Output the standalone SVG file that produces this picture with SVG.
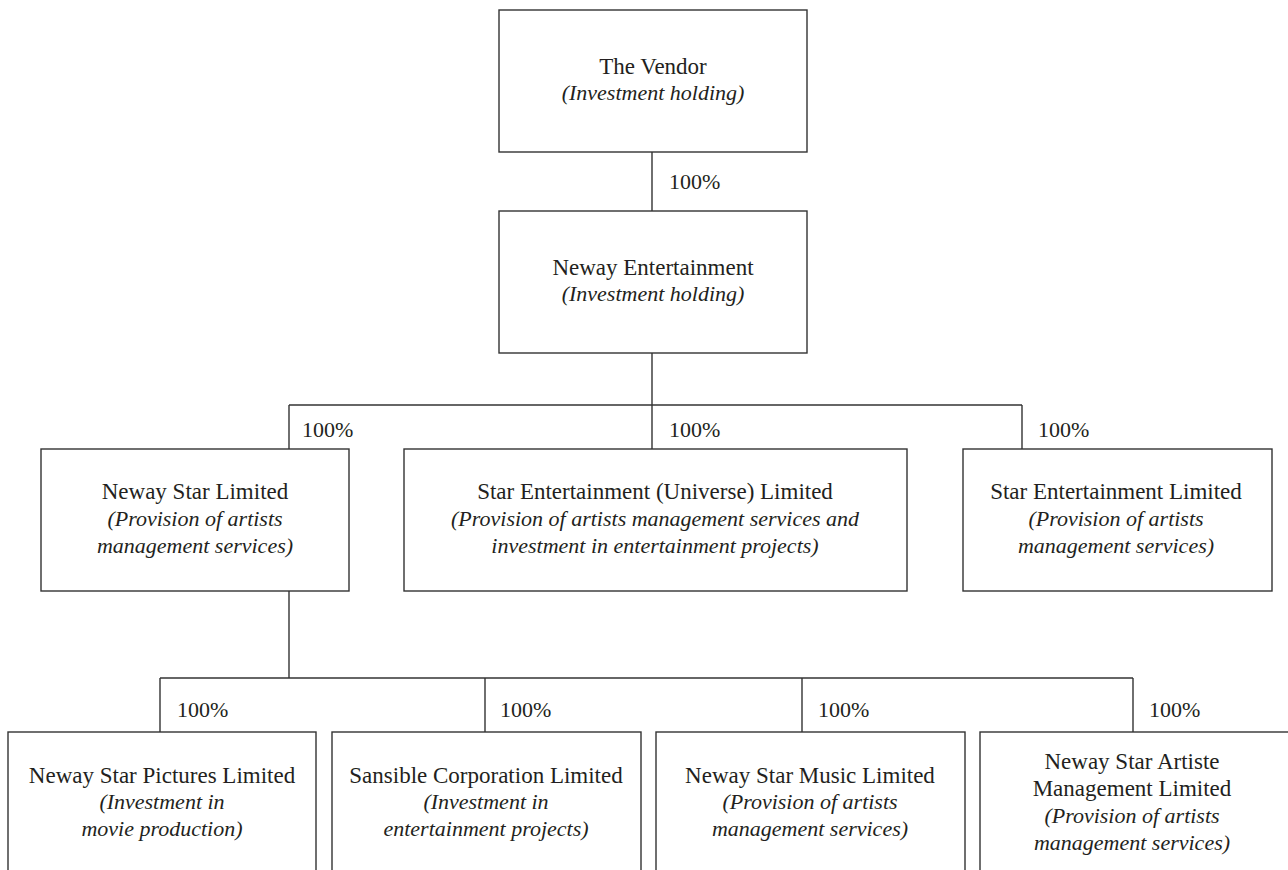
<svg xmlns="http://www.w3.org/2000/svg" width="1288" height="870" viewBox="0 0 1288 870">
<style>
rect.box{fill:#fff;stroke:#333;stroke-width:1.4}
.conn line{stroke:#333;stroke-width:1.4}
text{font-family:"Liberation Serif","Times New Roman",serif;font-size:23px;fill:#231f20}
text.p{font-size:22px}
text.c{text-anchor:middle}
.i{font-style:italic;font-size:22px}
</style>
<rect width="1288" height="870" fill="#fff"/>
<g id="connectors" class="conn">
<line x1="652" y1="152" x2="652" y2="211"/>
<line x1="652" y1="353" x2="652" y2="405"/>
<line x1="289" y1="405" x2="1022" y2="405"/>
<line x1="289" y1="405" x2="289" y2="449"/>
<line x1="652" y1="405" x2="652" y2="449"/>
<line x1="1022" y1="405" x2="1022" y2="449"/>
<line x1="289" y1="591" x2="289" y2="678"/>
<line x1="160" y1="678" x2="1133" y2="678"/>
<line x1="160" y1="678" x2="160" y2="732"/>
<line x1="485" y1="678" x2="485" y2="732"/>
<line x1="802" y1="678" x2="802" y2="732"/>
<line x1="1133" y1="678" x2="1133" y2="732"/>
</g>
<g id="labels">
<text class="p" x="669" y="189">100%</text>
<text class="p" x="302" y="437">100%</text>
<text class="p" x="669" y="437">100%</text>
<text class="p" x="1038" y="437">100%</text>
<text class="p" x="177" y="717">100%</text>
<text class="p" x="500" y="717">100%</text>
<text class="p" x="818" y="717">100%</text>
<text class="p" x="1149" y="717">100%</text>
</g>
<g id="vendor">
<rect class="box" x="499" y="10" width="308" height="142"/>
<text class="c" x="653" y="74">The Vendor</text>
<text class="c i" x="653" y="100">(Investment holding)</text>
</g>
<g id="neway-entertainment">
<rect class="box" x="499" y="211" width="308" height="142"/>
<text class="c" x="653" y="275">Neway Entertainment</text>
<text class="c i" x="653" y="301">(Investment holding)</text>
</g>
<g id="neway-star">
<rect class="box" x="41" y="449" width="308" height="142"/>
<text class="c" x="195" y="499">Neway Star Limited</text>
<text class="c i" x="195" y="526">(Provision of artists</text>
<text class="c i" x="195" y="553">management services)</text>
</g>
<g id="star-universe">
<rect class="box" x="404" y="449" width="503" height="142"/>
<text class="c" x="655" y="499">Star Entertainment (Universe) Limited</text>
<text class="c i" x="655" y="526">(Provision of artists management services and</text>
<text class="c i" x="655" y="553">investment in entertainment projects)</text>
</g>
<g id="star-entertainment">
<rect class="box" x="963" y="449" width="309" height="142"/>
<text class="c" x="1116" y="499">Star Entertainment Limited</text>
<text class="c i" x="1116" y="526">(Provision of artists</text>
<text class="c i" x="1116" y="553">management services)</text>
</g>
<g id="pictures">
<rect class="box" x="8" y="732" width="308" height="170"/>
<text class="c" x="162" y="783">Neway Star Pictures Limited</text>
<text class="c i" x="162" y="809">(Investment in</text>
<text class="c i" x="162" y="836">movie production)</text>
</g>
<g id="sansible">
<rect class="box" x="332" y="732" width="309" height="170"/>
<text class="c" x="486" y="783">Sansible Corporation Limited</text>
<text class="c i" x="486" y="809">(Investment in</text>
<text class="c i" x="486" y="836">entertainment projects)</text>
</g>
<g id="music">
<rect class="box" x="656" y="732" width="309" height="170"/>
<text class="c" x="810" y="783">Neway Star Music Limited</text>
<text class="c i" x="810" y="809">(Provision of artists</text>
<text class="c i" x="810" y="836">management services)</text>
</g>
<g id="artiste">
<rect class="box" x="980" y="732" width="312" height="170"/>
<text class="c" x="1132" y="769">Neway Star Artiste</text>
<text class="c" x="1132" y="796">Management Limited</text>
<text class="c i" x="1132" y="823">(Provision of artists</text>
<text class="c i" x="1132" y="850">management services)</text>
</g>
</svg>
